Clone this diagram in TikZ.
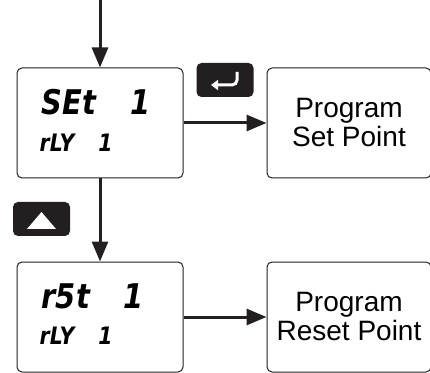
\documentclass[tikz,border=0pt]{standalone}
\usepackage{fontspec}
\setmainfont{Liberation Sans}
\newfontfamily\segfont[FakeStretch=0.85]{DejaVu Sans}
\usepackage{xcolor}
\definecolor{cLine}{HTML}{231F20}
\definecolor{cKey}{HTML}{231F20}
\usetikzlibrary{positioning,arrows.meta}
\tikzset{
  node-disp/.style={draw=cLine,line width=1pt,rounded corners=5pt,
    minimum width=166pt,minimum height=110pt,inner sep=0pt},
  node-box/.style={draw=cLine,line width=1pt,rounded corners=5pt,
    minimum width=164pt,minimum height=110pt,align=center,
    font=\fontsize{28}{29}\selectfont},
  node-key/.style={fill=cKey,rounded corners=5pt,minimum width=57pt,
    minimum height=34pt,inner sep=0pt},
  % display digits: bold slanted sans, close to the seven segment look
  seg-big/.style={anchor=base west,inner sep=0pt,
    font=\segfont\bfseries\itshape\fontsize{34}{34}\selectfont},
  seg-small/.style={anchor=base west,inner sep=0pt,
    font=\segfont\bfseries\itshape\fontsize{24}{24}\selectfont},
  arrow/.style={-{Triangle[length=20pt,width=16pt]},line width=3pt,draw=cLine},
}
\begin{document}
\begin{tikzpicture}[x=1pt,y=1pt,node distance=83pt]
  \useasboundingbox (0,0) rectangle (430,372);
  \coordinate (entry) at (100,372);

  \node[node-disp] (set) at (100,249) {};
  \node[node-box,right=of set] (setpt) {Program\\Set Point};
  \node[node-disp,below=of set] (rst) {};
  \node[node-box,right=of rst] (rstpt) {Program\\Reset Point};

  \node[seg-big] (set-a) at ([xshift=25pt,yshift=8pt]set.west) {SEt\hspace{34pt}1};
  \node[seg-small] (set-b) at ([xshift=23pt,yshift=-29pt]set.west) {rLY\hspace{24pt}1};
  \node[seg-big] (rst-a) at ([xshift=25pt,yshift=9pt]rst.west) {r5t\hspace{34pt}1};
  \node[seg-small] (rst-b) at ([xshift=23pt,yshift=-27pt]rst.west) {rLY\hspace{24pt}1};

  % keys
  \node[node-key] (enter) at (225,292) {};
  \draw[white,line width=3pt,rounded corners=5pt,-{Triangle[length=7pt,width=10pt]}]
    ([shift={(12pt,8pt)}]enter.center) -- ([shift={(12pt,-5pt)}]enter.center)
    -- ([shift={(-14pt,-5pt)}]enter.center);
  \node[node-key] (up) at (41.5,153) {};
  \fill[white] ([shift={(-14.5pt,-10pt)}]up.center) -- ([shift={(14.5pt,-10pt)}]up.center)
    -- ([shift={(0pt,7pt)}]up.center) -- cycle;

  \draw[arrow] (entry) -- (set);
  \draw[arrow] (set) -- (setpt);
  \draw[arrow] (set) -- (rst);
  \draw[arrow] (rst) -- (rstpt);
\end{tikzpicture}
\end{document}
